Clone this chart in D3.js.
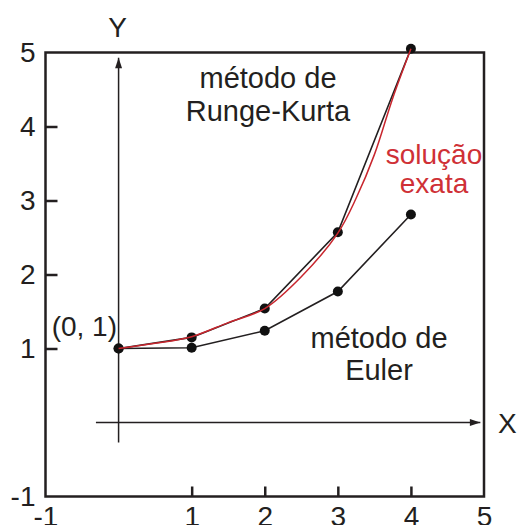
<!DOCTYPE html>
<html>
<head>
<meta charset="utf-8">
<script src="https://cdn.jsdelivr.net/npm/d3@7"></script>
<style>
  html, body { margin: 0; padding: 0; background: #fff; }
  svg { display: block; }
  text { font-family: "Liberation Sans", Arial, Helvetica, sans-serif; }
</style>
</head>
<body>
<svg id="chart" width="518" height="525"></svg>
<script>
// Step positions (x) shared by both numerical methods
const steps = [0, 1, 2, 3, 4];
// Runge-Kutta approximation at each step
const rungeKutta = [1, 1.15, 1.54, 2.57, 5.05];
// Euler approximation at each step
const euler = [1, 1.01, 1.24, 1.77, 2.81];
// Exact solution samples
const exactX = [0, 0.5, 1, 1.5, 2, 2.5, 3, 3.25, 3.5, 3.75, 4];
const exactY = [1, 1.07, 1.16, 1.35, 1.54, 1.97, 2.56, 3.03, 3.62, 4.38, 5.05];

// Frame tick labels
const xTickValues = [-1, 1, 2, 3, 4, 5];
const yTickValues = [-1, 1, 2, 3, 4, 5];
const xInnerTicks = [1, 2, 3, 4];
const yInnerTicks = [1, 2, 3, 4];

// Annotations
const rkLabel = ["método de", "Runge-Kurta"];
const eulerLabel = ["método de", "Euler"];
const exactLabel = ["solução", "exata"];
const originLabel = "(0, 1)";

const INK = "#231f20";
const RED = "#c8262e";
const RED_TEXT = "#cf3036";

const svg = d3.select("#chart");
const frame = { left: 45.5, right: 484, top: 52.5, bottom: 496.5 };

const x = d3.scaleLinear().domain([-1, 5]).range([frame.left, frame.right]);
const y = d3.scaleLinear().domain([-1, 5]).range([frame.bottom, frame.top]);

// Arrowhead for the coordinate axes
svg.append("defs").append("marker")
  .attr("id", "arrow")
  .attr("viewBox", "0 0 12 8")
  .attr("refX", 12).attr("refY", 4)
  .attr("markerWidth", 12).attr("markerHeight", 7)
  .attr("markerUnits", "userSpaceOnUse")
  .attr("orient", "auto")
  .append("path").attr("d", "M0,0 L12,4 L0,8 Z").attr("fill", INK);

// Frame
svg.append("rect")
  .attr("x", frame.left).attr("y", frame.top)
  .attr("width", frame.right - frame.left).attr("height", frame.bottom - frame.top)
  .attr("fill", "none").attr("stroke", INK).attr("stroke-width", 2.5);

const fmt = d => d < 0 ? "-" + Math.abs(d) : String(d);

// Left scale with inward ticks
const yAxis = svg.append("g")
  .attr("transform", `translate(${frame.left},0)`)
  .call(d3.axisLeft(y).tickValues(yTickValues).tickSizeInner(-12).tickSizeOuter(0).tickPadding(10).tickFormat(fmt));
yAxis.select(".domain").remove();
yAxis.selectAll(".tick line")
  .attr("stroke", INK).attr("stroke-width", 2.5)
  .attr("display", d => yInnerTicks.includes(d) ? null : "none");
yAxis.selectAll(".tick text")
  .attr("font-size", 28).attr("fill", INK)
  .attr("font-family", "Liberation Sans, Arial, sans-serif");

// Bottom scale with inward ticks
const xAxis = svg.append("g")
  .attr("transform", `translate(0,${frame.bottom})`)
  .call(d3.axisBottom(x).tickValues(xTickValues).tickSizeInner(-10).tickSizeOuter(0).tickPadding(10).tickFormat(fmt));
xAxis.select(".domain").remove();
xAxis.selectAll(".tick line")
  .attr("stroke", INK).attr("stroke-width", 2.5)
  .attr("display", d => xInnerTicks.includes(d) ? null : "none");
xAxis.selectAll(".tick text")
  .attr("font-size", 28).attr("fill", INK)
  .attr("font-family", "Liberation Sans, Arial, sans-serif");

// Coordinate axes with arrows
svg.append("line")
  .attr("x1", x(0)).attr("x2", x(0))
  .attr("y1", y(-0.27)).attr("y2", y(4.93))
  .attr("stroke", INK).attr("stroke-width", 1.5)
  .attr("marker-end", "url(#arrow)");
svg.append("line")
  .attr("x1", x(-0.31)).attr("x2", x(4.95))
  .attr("y1", y(0)).attr("y2", y(0))
  .attr("stroke", INK).attr("stroke-width", 1.5)
  .attr("marker-end", "url(#arrow)");

svg.append("text").attr("x", x(0) - 1).attr("y", 37)
  .attr("text-anchor", "middle").attr("font-size", 28).attr("fill", INK).text("Y");
svg.append("text").attr("x", 498).attr("y", y(0) + 10)
  .attr("text-anchor", "start").attr("font-size", 28).attr("fill", INK).text("X");

// Numerical solutions
const line = d3.line().x(d => x(d[0])).y(d => y(d[1]));
const rkPts = steps.map((s, i) => [s, rungeKutta[i]]);
const eulerPts = steps.map((s, i) => [s, euler[i]]);
const exactPts = exactX.map((s, i) => [s, exactY[i]]);

svg.append("path").attr("d", line(eulerPts))
  .attr("fill", "none").attr("stroke", INK).attr("stroke-width", 1.6);
svg.append("path").attr("d", line(rkPts))
  .attr("fill", "none").attr("stroke", INK).attr("stroke-width", 1.6);

svg.selectAll("circle.euler").data(eulerPts).join("circle")
  .attr("class", "euler")
  .attr("cx", d => x(d[0])).attr("cy", d => y(d[1])).attr("r", 5).attr("fill", "#111");
svg.selectAll("circle.rk").data(rkPts).join("circle")
  .attr("class", "rk")
  .attr("cx", d => x(d[0])).attr("cy", d => y(d[1])).attr("r", 5).attr("fill", "#111");

// Exact solution
svg.append("path")
  .attr("d", d3.line().x(d => x(d[0])).y(d => y(d[1])).curve(d3.curveCatmullRom)(exactPts))
  .attr("fill", "none").attr("stroke", RED).attr("stroke-width", 1.5);

// Annotations
function block(lines, cx, baseline, gap, size, color) {
  const t = svg.append("text").attr("text-anchor", "middle")
    .attr("font-size", size).attr("fill", color);
  lines.forEach((s, i) => t.append("tspan").attr("x", cx).attr("y", baseline + i * gap).text(s));
}
block(rkLabel, 268, 88, 33, 29, INK);
block(exactLabel, 434, 164, 29, 28, RED_TEXT);
block(eulerLabel, 379, 348, 32, 29, INK);

svg.append("text").attr("x", 117).attr("y", 336)
  .attr("text-anchor", "end").attr("font-size", 28).attr("fill", INK).text(originLabel);
</script>
</body>
</html>
